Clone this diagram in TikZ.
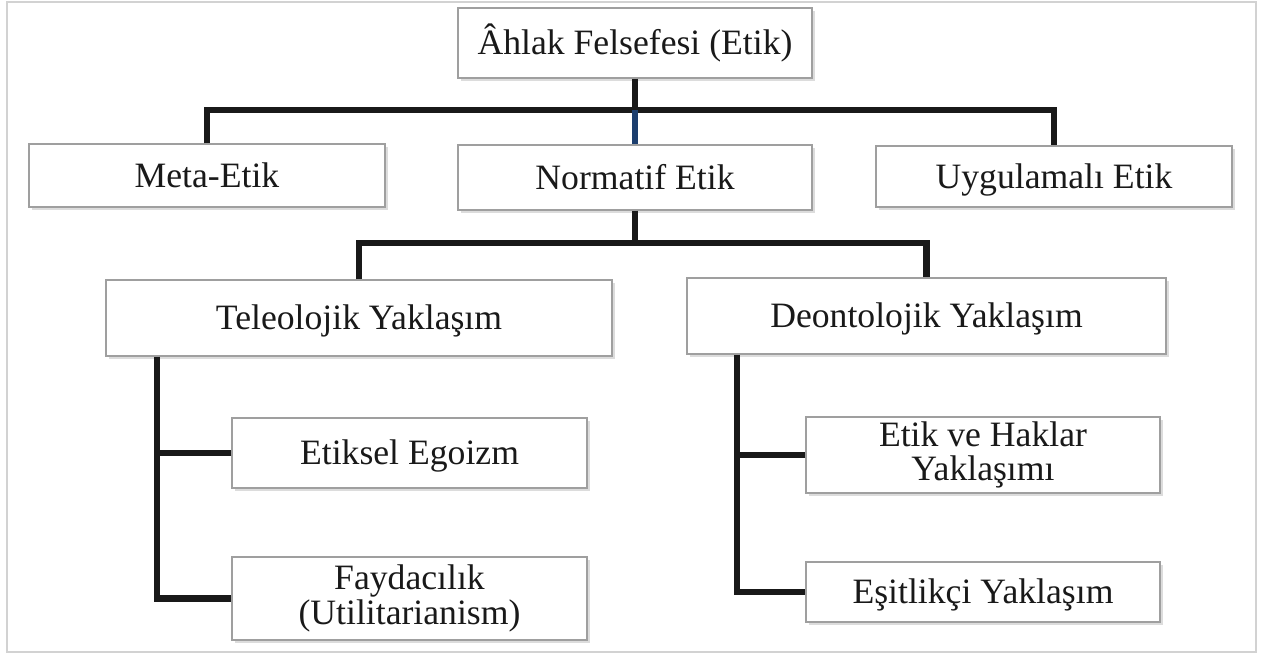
\documentclass[tikz,border=0pt]{standalone}
\usepackage{fontspec}
\setmainfont{Liberation Serif}
\usetikzlibrary{shadows}

\definecolor{bluelink}{RGB}{28,62,110}

\tikzset{
  box/.style={draw=gray!75, fill=white, line width=0.8pt, inner sep=0pt, align=center,
    text=black!90, font=\fontsize{20.3}{19.5}\selectfont,
    drop shadow={shadow xshift=1.5pt, shadow yshift=-1.8pt, fill=gray!55}},
  oneline/.style={text height=13.4pt, text depth=0pt},
  branch/.style={line width=3.8pt, black!90}
}

\begin{document}
\begin{tikzpicture}[x=0.02cm,y=-0.02cm]
\useasboundingbox (0,0) rectangle (1265,656);

% Outer frame
\draw[gray!35, line width=1pt] (7,2) rectangle (1256,652);

% Top level
\node[box, oneline, minimum width=7.08cm, minimum height=1.4cm] (ahlak) at (635,43) {Âhlak Felsefesi (Etik)};

% Second level
\node[box, oneline, minimum width=7.12cm, minimum height=1.26cm] (meta) at (207,175.5) {Meta-Etik};
\node[box, oneline, minimum width=7.08cm, minimum height=1.3cm] (normatif) at (635,177.5) {Normatif Etik};
\node[box, oneline, minimum width=7.12cm, minimum height=1.22cm] (uygulama) at (1054,176.5) {Uygulamalı Etik};

% Approaches
\node[box, oneline, minimum width=10.12cm, minimum height=1.52cm] (teleo) at (359,318) {Teleolojik Yaklaşım};
\node[box, oneline, minimum width=9.58cm, minimum height=1.52cm] (deonto) at (926.5,316) {Deontolojik Yaklaşım};

% Sub approaches
\node[box, oneline, minimum width=7.1cm, minimum height=1.4cm] (egoizm) at (409.5,453) {Etiksel Egoizm};
\node[box, minimum width=7.1cm, minimum height=1.66cm] (fayda) at (409.5,598.5) {Faydacılık\\(Utilitarianism)};
\node[box, minimum width=7.08cm, minimum height=1.52cm] (haklar) at (983,455) {Etik ve Haklar\\Yaklaşımı};
\node[box, oneline, minimum width=7.08cm, minimum height=1.2cm] (esitlik) at (983,592) {Eşitlikçi Yaklaşım};

% Connectors, first bus
\coordinate (busA) at (635,110);
\draw[branch] (ahlak.south) -- (busA);
\draw[branch] (meta.north) |- (busA) -| (uygulama.north);
\draw[branch, bluelink] (busA) -- (normatif.north);

% Second bus
\coordinate (busB) at (635,243);
\draw[branch] (normatif.south) -- (busB);
\draw[branch] (teleo.north) |- (busB) -| (deonto.north);

% Side stems
\coordinate (teleStem) at (157,0);
\coordinate (deontoStem) at (737,0);
\draw[branch] (teleo.south -| teleStem) |- (fayda.west);
\draw[branch] (egoizm.west) -- (egoizm.west -| teleStem);
\draw[branch] (deonto.south -| deontoStem) |- (esitlik.west);
\draw[branch] (haklar.west) -- (haklar.west -| deontoStem);
\end{tikzpicture}
\end{document}
